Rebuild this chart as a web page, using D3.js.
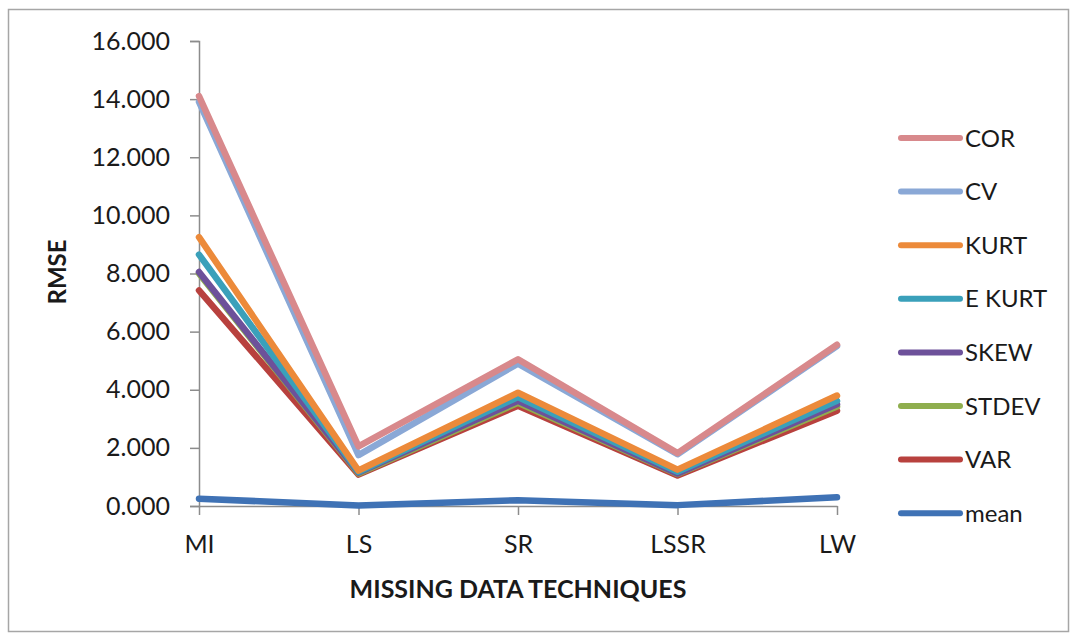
<!DOCTYPE html>
<html><head><meta charset="utf-8">
<script src="https://cdn.jsdelivr.net/npm/d3@7"></script>
<style>
html,body{margin:0;padding:0;background:#fff;}
text{font-family:Lato,"Open Sans",sans-serif;fill:#1a1a1a;}
</style></head>
<body><svg id="c" width="1079" height="641"></svg>
<script>
const categories = ["MI","LS","SR","LSSR","LW"];
const seriesNames = ["COR","CV","KURT","E KURT","SKEW","STDEV","VAR","mean"];
const COR   = [14.10, 2.05, 5.05, 1.82, 5.55];
const CV    = [13.90, 1.75, 4.90, 1.78, 5.50];
const KURT  = [9.25, 1.22, 3.90, 1.25, 3.80];
const EKURT = [8.65, 1.18, 3.75, 1.18, 3.62];
const SKEW  = [8.05, 1.15, 3.62, 1.12, 3.50];
const STDEV = [8.00, 1.12, 3.55, 1.10, 3.42];
const VAR   = [7.42, 1.08, 3.45, 1.05, 3.28];
const MEAN  = [0.25, 0.02, 0.20, 0.03, 0.30];
const yTicks = [0,2,4,6,8,10,12,14,16];
const colors = ["#d8898c","#8aa8d6","#ec8a3a","#3aa0ba","#6d519a","#8fae4e","#b8413e","#3f72b5"];
const values = [COR, CV, KURT, EKURT, SKEW, STDEV, VAR, MEAN];

const svg = d3.select("#c");
svg.append("rect").attr("x",8.5).attr("y",9.5).attr("width",1060).attr("height",622)
  .attr("fill","none").attr("stroke","#a6a6a6").attr("stroke-width",1.5);

const x = d3.scalePoint().domain(categories).range([199,837]);
const y = d3.scaleLinear().domain([0,16]).range([506,41]);

// Y axis
const ya = svg.append("g").attr("transform","translate(199,0)")
  .call(d3.axisLeft(y).tickValues(yTicks).tickFormat(d3.format(".3f")).tickSize(9).tickPadding(20));
ya.select(".domain").attr("stroke","#8c8c8c").attr("stroke-width",1.5);
ya.selectAll(".tick line").attr("stroke","#8c8c8c").attr("stroke-width",1.5);
ya.selectAll(".tick text").attr("font-size",25).attr("font-family","Lato,sans-serif").attr("fill","#1a1a1a");

// X axis
const xa = svg.append("g").attr("transform","translate(0,506)")
  .call(d3.axisBottom(x).tickSize(9).tickPadding(20).tickSizeOuter(0));
xa.select(".domain").attr("stroke","#8c8c8c").attr("stroke-width",1.5);
xa.selectAll(".tick line").attr("stroke","#8c8c8c").attr("stroke-width",1.5);
xa.selectAll(".tick text").attr("font-size",25).attr("font-family","Lato,sans-serif").attr("fill","#1a1a1a");

// Lines: drawn from last series (mean) to first (COR)
const line = d3.line().x((d,i)=>x(categories[i])).y(d=>y(d));
for (let k = values.length-1; k >= 0; k--) {
  svg.append("path").datum(values[k]).attr("d",line)
    .attr("fill","none").attr("stroke",colors[k]).attr("stroke-width",6.5)
    .attr("stroke-linejoin","round").attr("stroke-linecap","round");
}

// Axis titles
svg.append("text").attr("transform","translate(66,272) rotate(-90)")
  .attr("text-anchor","middle").attr("font-size",24).attr("font-weight","bold").text("RMSE");
svg.append("text").attr("x",518).attr("y",598).attr("text-anchor","middle")
  .attr("font-size",25).attr("font-weight","bold").text("MISSING  DATA TECHNIQUES");

// Legend
const lg = svg.append("g");
seriesNames.forEach((n,i)=>{
  const cy = 138 + i*53.6;
  lg.append("line").attr("x1",901).attr("x2",960).attr("y1",cy).attr("y2",cy)
    .attr("stroke",colors[i]).attr("stroke-width",6).attr("stroke-linecap","round");
  lg.append("text").attr("x",965).attr("y",cy).attr("dy","0.36em")
    .attr("font-size",24).text(n);
});
</script></body></html>
